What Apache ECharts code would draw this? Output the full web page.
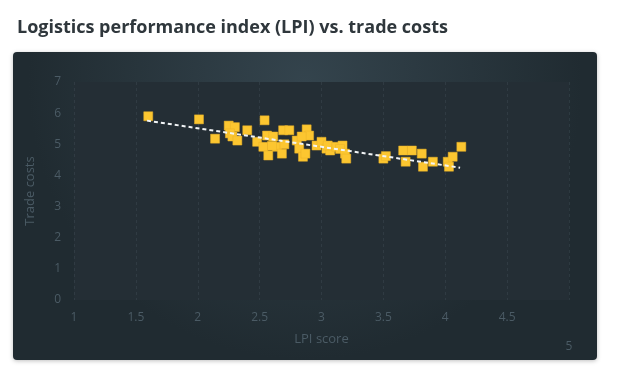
<!DOCTYPE html>
<html>
<head>
<meta charset="utf-8">
<style>
html,body{margin:0;padding:0;background:#fff;}
#c{width:643px;height:370px;}
</style>
<script src="https://cdn.jsdelivr.net/npm/echarts@6/dist/echarts.min.js"></script>
</head>
<body>
<div id="c"></div>
<script>
const titleText = "Logistics performance index (LPI) vs. trade costs";
const xName = "LPI score";
const yName = "Trade costs";
const xTicks = [1, 1.5, 2, 2.5, 3, 3.5, 4, 4.5, 5];
const yTicks = [0, 1, 2, 3, 4, 5, 6, 7];
const lpiScores = [1.6,2.01,2.14,2.25,2.3,2.26,2.28,2.32,2.4,2.54,2.48,2.53,2.56,2.57,2.61,2.64,2.6,2.68,2.69,2.74,2.7,2.8,2.82,2.85,2.88,2.9,2.84,2.87,2.96,3.0,3.04,3.07,3.05,3.12,3.17,3.15,3.19,3.2,3.5,3.52,3.66,3.73,3.68,3.81,3.82,3.9,4.02,4.03,4.06,4.13];
const tradeCosts = [5.9,5.8,5.18,5.6,5.55,5.35,5.25,5.12,5.45,5.77,5.08,4.92,5.28,4.64,5.25,4.92,4.95,4.7,5.45,5.45,5.0,5.12,4.86,4.6,5.48,5.28,5.25,4.7,4.96,5.08,4.86,4.8,4.96,4.92,4.96,4.85,4.7,4.54,4.54,4.62,4.8,4.8,4.44,4.7,4.28,4.44,4.44,4.28,4.6,4.92];
const trendX = [1.59, 4.12];
const trendY = [5.76, 4.25];

const points = lpiScores.map((x, i) => [x, tradeCosts[i]]);
const trend = trendX.map((x, i) => [x, trendY[i]]);

const chart = echarts.init(document.getElementById('c'), null, {renderer: 'canvas'});
const labelColor = '#4b5b65';
chart.setOption({
  backgroundColor: '#ffffff',
  animation: false,
  textStyle: {fontFamily: 'Open Sans'},
  title: {
    text: titleText, left: 12, top: 14,
    textStyle: {fontFamily: 'Open Sans', fontSize: 18, fontWeight: 'bold', color: '#2f373c'}
  },
  graphic: [{
    type: 'rect', z: -10, silent: true,
    shape: {x: 13, y: 52, width: 584, height: 308, r: 4},
    style: {
      fill: {type: 'radial', x: 0.5, y: 0.1, r: 0.9, colorStops: [
        {offset: 0, color: '#34444d'}, {offset: 1, color: '#202b31'}]},
      shadowBlur: 4, shadowColor: 'rgba(0,0,0,0.25)', shadowOffsetY: 1
    }
  }],
  grid: {
    left: 74, right: 74, top: 82, bottom: 70,
    show: true, backgroundColor: '#242e35', borderWidth: 0
  },
  xAxis: {
    type: 'value', min: xTicks[0], max: xTicks[xTicks.length - 1], interval: 0.5,
    name: xName, nameLocation: 'middle', nameGap: 33, nameMoveOverlap: false,
    nameTextStyle: {color: labelColor, fontSize: 13},
    axisLine: {show: false}, axisTick: {show: false},
    axisLabel: {
      color: labelColor, fontSize: 12, margin: 12,
      formatter: v => v === xTicks[xTicks.length - 1] ? '{last|' + v + '}' : String(v),
      rich: {last: {color: labelColor, fontSize: 12, padding: [29, 0, 0, 0]}}
    },
    splitLine: {show: true, lineStyle: {color: 'rgba(90,110,120,0.22)', type: [3, 3], width: 1}}
  },
  yAxis: {
    type: 'value', min: yTicks[0], max: yTicks[yTicks.length - 1], interval: 1,
    name: yName, nameLocation: 'middle', nameGap: 37, nameRotate: 90, nameMoveOverlap: false,
    nameTextStyle: {color: labelColor, fontSize: 13},
    axisLine: {show: false}, axisTick: {show: false},
    axisLabel: {color: labelColor, fontSize: 12, margin: 13},
    splitLine: {show: false}
  },
  series: [{
    type: 'scatter', data: points, symbol: 'rect', symbolSize: 9,
    itemStyle: {color: '#fcc630', borderColor: '#eab228', borderWidth: 0.5, opacity: 1}
  }, {
    type: 'line', data: trend, symbol: 'none', z: 5,
    lineStyle: {color: '#f2f5f7', width: 2, type: [4, 3]}
  }]
});
</script>
</body>
</html>
